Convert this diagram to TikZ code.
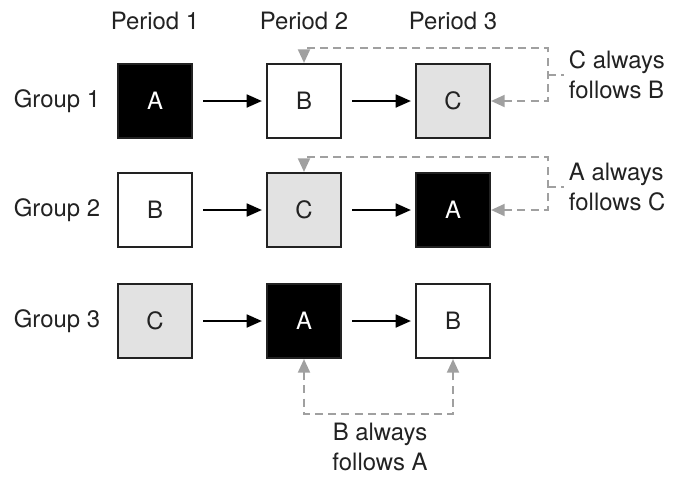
\documentclass[tikz,border=0pt]{standalone}
\usepackage{fontspec}
\setmainfont{TeX Gyre Heros}
\usepackage{xcolor}
\usepackage{tikz}
\usetikzlibrary{positioning}
\usetikzlibrary{calc,arrows.meta}

\definecolor{lightfill}{HTML}{E2E2E2}
\definecolor{dashgray}{HTML}{A0A0A0}
\definecolor{textdark}{HTML}{222222}

\begin{document}
\begin{tikzpicture}[x=0.025cm, y=-0.025cm, font=\fontsize{17}{21}\selectfont, text=textdark]
    % Define the styles of the boxes and arrows
    \tikzset{
        box/.style={draw=textdark, line width=1.5pt, minimum size=1.85cm, inner sep=0pt},
        blackbox/.style={box, fill=black, text=white},
        whitebox/.style={box, fill=white},
        graybox/.style={box, fill=lightfill},
        seq arrow/.style={-{Triangle[length=0.38cm, width=0.32cm]}, line width=1.6pt, shorten <=0.25cm, shorten >=0.1cm},
        rule line/.style={dashgray, line width=1.4pt, dash pattern=on 0.2cm off 0.13cm},
        rule arrow/.style={rule line, {Triangle[length=0.34cm, width=0.3cm]}-{Triangle[length=0.34cm, width=0.3cm]}},
        rule label/.style={align=left, anchor=west}
    }

    \useasboundingbox (0,0) rectangle (675,476);

    % Draw the period and group labels
    \node (per1) at (155,21) {Period 1};
    \node (per2) at (304,21) {Period 2};
    \node (per3) at (453,21) {Period 3};
    \node (grp1) at (57,101) {Group 1};
    \node (grp2) at (57,210) {Group 2};
    \node (grp3) at (57,321) {Group 3};

    % Draw the boxes
    \node[blackbox] (g1p1) at (155,101) {A};
    \node[whitebox] (g1p2) at (304,101) {B};
    \node[graybox]  (g1p3) at (453,101) {C};
    \node[whitebox] (g2p1) at (155,210) {B};
    \node[graybox]  (g2p2) at (304,210) {C};
    \node[blackbox] (g2p3) at (453,210) {A};
    \node[graybox]  (g3p1) at (155,321) {C};
    \node[blackbox] (g3p2) at (304,321) {A};
    \node[whitebox] (g3p3) at (453,321) {B};

    % Draw the sequence arrows
    \draw[seq arrow] (g1p1) -- (g1p2);
    \draw[seq arrow] (g1p2) -- (g1p3);
    \draw[seq arrow] (g2p1) -- (g2p2);
    \draw[seq arrow] (g2p2) -- (g2p3);
    \draw[seq arrow] (g3p1) -- (g3p2);
    \draw[seq arrow] (g3p2) -- (g3p3);

    % Define the corners of the dashed rules
    \coordinate (r1) at (548,48);
    \coordinate (r2) at (548,157);
    \coordinate (r3) at (378,414);

    % Draw the dashed rules
    \draw[rule arrow] (g1p3.east) -| (r1) -| (g1p2.north);
    \draw[rule arrow] (g2p3.east) -| (r2) -| (g2p2.north);
    \draw[rule arrow] (g3p2.south) |- (r3) -| (g3p3.south);

    % Draw the rule labels
    \node[rule label] (lab1) at (564,75) {C always\\follows B};
    \node[rule label] (lab2) at (564,187) {A always\\follows C};
    \node[align=center] (lab3) at (380,447) {B always\\follows A};
    \draw[rule line] (r1 |- lab1.west) -- (lab1.west);
    \draw[rule line] (r2 |- lab2.west) -- (lab2.west);
\end{tikzpicture}
\end{document}
